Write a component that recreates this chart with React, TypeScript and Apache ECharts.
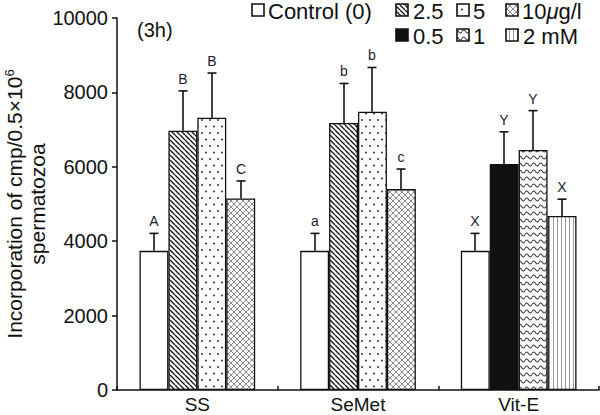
import React, { useEffect, useRef } from "react";
import * as echarts from "echarts";

const categories = ["SS", "SeMet", "Vit-E"];
const legendLabels = ["Control (0)", "2.5", "5", "10{mu|μ}g/l", "0.5", "1", "2 mM"];

// mean values (bar tops) per group, slots: control, low, mid, high
const ssMean = [3740, 6970, 7320, 5150];
const seMetMean = [3740, 7180, 7480, 5400];
const vitEMean = [3740, 6075, 6450, 4680];

// top of the upper error bar
const ssUpper = [4210, 8040, 8520, 5620];
const seMetUpper = [4210, 8240, 8670, 5940];
const vitEUpper = [4210, 6940, 7510, 5130];

const ssLetters = ["A", "B", "B", "C"];
const seMetLetters = ["a", "b", "b", "c"];
const vitELetters = ["X", "Y", "Y", "X"];

const yTicks = { min: 0, max: 10000, interval: 2000 };

const FONT = "'Liberation Sans', Arial, Helvetica, sans-serif";

function makePattern(w: number, h: number, draw: (ctx: CanvasRenderingContext2D) => void) {
  const c = document.createElement("canvas");
  c.width = w;
  c.height = h;
  const ctx = c.getContext("2d") as CanvasRenderingContext2D;
  ctx.fillStyle = "#ffffff";
  ctx.fillRect(0, 0, w, h);
  draw(ctx);
  return { image: c, repeat: "repeat" } as any;
}

function buildPatterns() {
  const diag = makePattern(5, 5, (ctx) => {
    ctx.strokeStyle = "#111";
    ctx.lineWidth = 1.3;
    ctx.beginPath();
    for (const k of [-5, 0, 5]) {
      ctx.moveTo(k, 0);
      ctx.lineTo(k + 5, 5);
    }
    ctx.stroke();
  });
  const dots = makePattern(8, 13, (ctx) => {
    ctx.fillStyle = "#222";
    for (const [x, y] of [[2, 3], [6, 9.5]]) {
      ctx.beginPath();
      ctx.arc(x, y, 0.95, 0, Math.PI * 2);
      ctx.fill();
    }
  });
  const cross = makePattern(6, 6, (ctx) => {
    ctx.strokeStyle = "#8a8a8a";
    ctx.lineWidth = 1;
    ctx.beginPath();
    for (const k of [-6, 0, 6]) {
      ctx.moveTo(k, 0);
      ctx.lineTo(k + 6, 6);
      ctx.moveTo(k + 6, 0);
      ctx.lineTo(k, 6);
    }
    ctx.stroke();
  });
  const wavy = makePattern(7, 7, (ctx) => {
    ctx.strokeStyle = "#333";
    ctx.lineWidth = 1.1;
    ctx.beginPath();
    ctx.moveTo(0, 3.5);
    ctx.bezierCurveTo(1.2, 1.5, 2.3, 1.5, 3.5, 3.5);
    ctx.bezierCurveTo(4.7, 5.5, 5.8, 5.5, 7, 3.5);
    ctx.stroke();
  });
  const vert = makePattern(4, 4, (ctx) => {
    ctx.strokeStyle = "#999";
    ctx.lineWidth = 1;
    ctx.beginPath();
    ctx.moveTo(1.5, 0);
    ctx.lineTo(1.5, 4);
    ctx.stroke();
  });
  return { white: "#ffffff", black: "#111111", diag, dots, cross, wavy, vert };
}

export default function App() {
  const ref = useRef<HTMLDivElement>(null);

  useEffect(() => {
    document.body.style.margin = "0";
    if (!ref.current) return;
    const chart = echarts.init(ref.current, undefined, { renderer: "svg" });
    const p = buildPatterns();

    const groupFills = [
      [p.white, p.diag, p.dots, p.cross],
      [p.white, p.diag, p.dots, p.cross],
      [p.white, p.black, p.wavy, p.vert],
    ];
    const means = [ssMean, seMetMean, vitEMean];
    const uppers = [ssUpper, seMetUpper, vitEUpper];
    const letters = [ssLetters, seMetLetters, vitELetters];

    const barSeries = [0, 1, 2, 3].map((slot) => ({
      type: "bar",
      barGap: "0%",
      barCategoryGap: "28%",
      data: categories.map((_, gi) => ({
        value: means[gi][slot],
        itemStyle: { color: groupFills[gi][slot], borderColor: "#111", borderWidth: 1.3 },
      })),
      emphasis: { disabled: true },
    }));

    const errData: number[][] = [];
    const errLetters: string[] = [];
    categories.forEach((_, gi) => {
      for (let slot = 0; slot < 4; slot++) {
        errData.push([gi, slot, means[gi][slot], uppers[gi][slot]]);
        errLetters.push(letters[gi][slot]);
      }
    });

    const errSeries = {
      type: "custom",
      z: 5,
      encode: { x: 0, y: 3 },
      data: errData,
      renderItem: (params: any, api: any) => {
        const cat = api.value(0);
        const slot = api.value(1);
        const pMean = api.coord([cat, api.value(2)]);
        const pUp = api.coord([cat, api.value(3)]);
        const band = api.size([1, 0])[0];
        const bw = (band * 0.72) / 4;
        const x = Math.round(pMean[0] + (slot - 1.5) * bw);
        return {
          type: "group",
          children: [
            { type: "line", shape: { x1: x, y1: pMean[1], x2: x, y2: pUp[1] }, style: { stroke: "#111", lineWidth: 1.6 } },
            { type: "line", shape: { x1: x - 4.5, y1: pUp[1], x2: x + 4.5, y2: pUp[1] }, style: { stroke: "#111", lineWidth: 1.6 } },
            {
              type: "text",
              x,
              y: pUp[1] - 12,
              style: {
                text: errLetters[params.dataIndex],
                fontSize: 14,
                fontFamily: FONT,
                fill: "#1c1c30",
                align: "center",
                verticalAlign: "middle",
              },
            },
          ],
        };
      },
    };

    const sqFills = [p.white, p.diag, p.dots, p.cross, p.black, p.wavy, p.vert];
    const legendPos = [
      { sx: 252, tx: 268, y: 4 },
      { sx: 396, tx: 413, y: 4 },
      { sx: 457, tx: 473, y: 4 },
      { sx: 506, tx: 522, y: 4 },
      { sx: 396, tx: 413, y: 29 },
      { sx: 457, tx: 473, y: 29 },
      { sx: 506, tx: 523, y: 29 },
    ];
    const graphics: any[] = [];
    legendLabels.forEach((lab, i) => {
      const lp = legendPos[i];
      graphics.push({
        type: "rect",
        shape: { x: lp.sx, y: lp.y, width: 12, height: 12 },
        style: { fill: sqFills[i], stroke: "#111", lineWidth: 1.6 },
      });
      graphics.push({
        type: "text",
        x: lp.tx,
        y: lp.y + 7,
        style: {
          text: lab,
          fontSize: 22,
          fontFamily: FONT,
          fill: "#111",
          verticalAlign: "middle",
          rich: { mu: { fontStyle: "italic", fontSize: 22, fontFamily: FONT, fill: "#111" } },
        },
      });
    });
    graphics.push({
      type: "text",
      x: 137,
      y: 30,
      style: { text: "(3h)", fontSize: 20, fontFamily: FONT, fill: "#111", verticalAlign: "middle" },
    });

    chart.setOption({
      animation: false,
      grid: { left: 117, right: 1, top: 18, bottom: 25, containLabel: false, outerBoundsMode: "none" },
      xAxis: {
        type: "category",
        data: categories,
        axisLine: { lineStyle: { color: "#111", width: 1.5 } },
        axisTick: { show: true, inside: true, length: 4, lineStyle: { color: "#111", width: 1.5 } },
        axisLabel: { fontSize: 19, fontFamily: FONT, color: "#111", margin: 5 },
      },
      yAxis: {
        type: "value",
        min: yTicks.min,
        max: yTicks.max,
        interval: yTicks.interval,
        splitLine: { show: false },
        axisLine: { show: true, lineStyle: { color: "#111", width: 1.5 } },
        axisTick: { show: true, length: 5, lineStyle: { color: "#111", width: 1.5 } },
        axisLabel: { fontSize: 20, fontFamily: FONT, color: "#111", margin: 9, formatter: (v: number) => String(v) },
        name: "Incorporation of cmp/0.5×10{sup|6}\nspermatozoa",
        nameLocation: "middle",
        nameMoveOverlap: false,
        nameGap: 68,
        nameTextStyle: {
          fontSize: 21,
          fontFamily: FONT,
          color: "#111",
          lineHeight: 23,
          rich: {
            sup: { fontSize: 13, fontFamily: FONT, color: "#111", verticalAlign: "top", lineHeight: 23 },
          },
        },
      },
      graphic: graphics,
      series: [...barSeries, errSeries],
    });

    return () => chart.dispose();
  }, []);

  return <div ref={ref} style={{ width: 600, height: 415 }} />;
}
